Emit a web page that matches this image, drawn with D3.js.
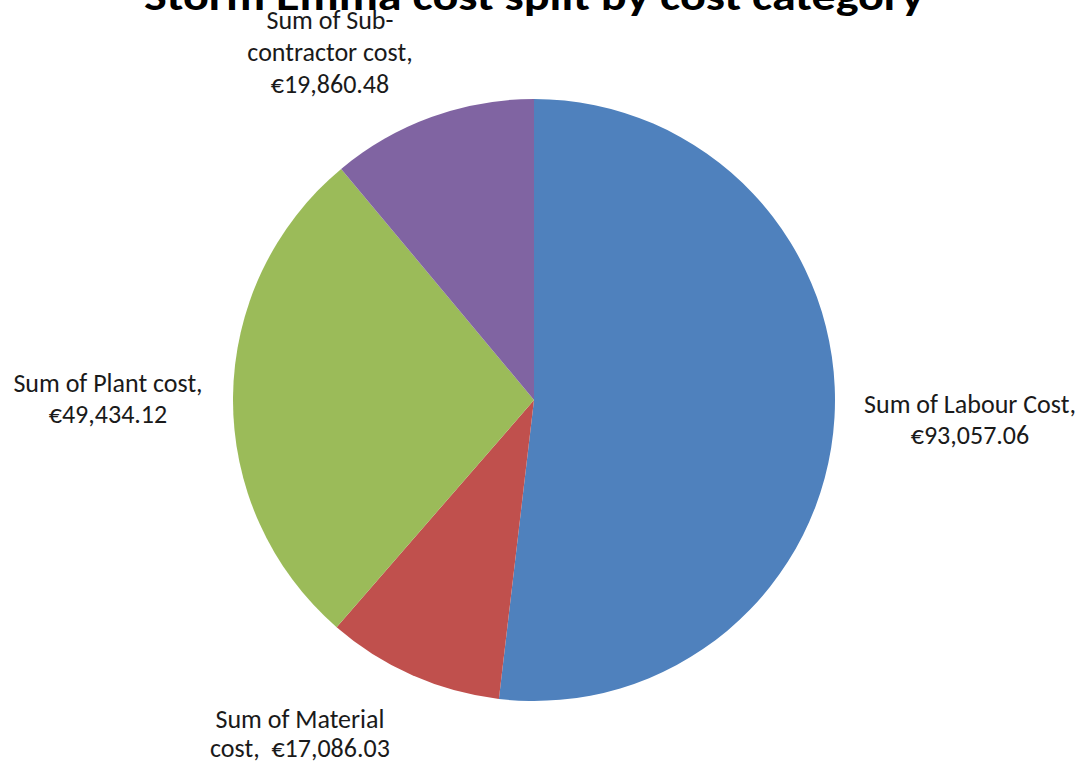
<!DOCTYPE html>
<html>
<head>
<meta charset="utf-8">
<script src="https://cdn.jsdelivr.net/npm/d3@7"></script>
<style>
  html, body { margin: 0; padding: 0; background: #fff; }
  svg { display: block; }
  text { font-family: Calibri, Carlito, Lato, sans-serif; fill: #1a1a1a; }
</style>
</head>
<body>
<div id="chart"></div>
<script>
// Storm Emma - custo por categoria
const titleText = 'Storm Emma cost split by cost category';
const categories = ['Labour Cost', 'Material cost', 'Plant cost', 'Sub-contractor cost'];
const values = [93057.06, 17086.03, 49434.12, 19860.48];
const labelLines = [
  ['Sum of Labour Cost,', '€93,057.06'],
  ['Sum of Material', 'cost,  €17,086.03'],
  ['Sum of Plant cost,', '€49,434.12'],
  ['Sum of Sub-', 'contractor cost,', '€19,860.48']
];
const colors = ['#4F81BD', '#C0504D', '#9BBB59', '#8064A2'];

const width = 1091;
const height = 762;
const cx = 534;
const cy = 400;
const radius = 301;

const svg = d3.select('#chart')
  .append('svg')
  .attr('width', width)
  .attr('height', height);

// Título (cortado no topo, como no original)
svg.append('text')
  .attr('x', cx)
  .attr('y', 10)
  .attr('text-anchor', 'middle')
  .attr('textLength', 780)
  .attr('lengthAdjust', 'spacingAndGlyphs')
  .style('font-size', '40px')
  .style('font-weight', 'bold')
  .style('fill', '#000')
  .text(titleText);

const data = categories.map((c, i) => ({ name: c, value: values[i], lines: labelLines[i], color: colors[i] }));

const pie = d3.pie()
  .sort(null)
  .value(d => d.value);

const arc = d3.arc()
  .innerRadius(0)
  .outerRadius(radius);

const g = svg.append('g')
  .attr('transform', `translate(${cx},${cy})`);

g.selectAll('path')
  .data(pie(data))
  .enter()
  .append('path')
  .attr('d', arc)
  .attr('fill', d => d.data.color);

// Posição dos rótulos (centro da primeira linha de base)
const labelPos = [
  { x: 970, y: 413 },
  { x: 300, y: 728 },
  { x: 108, y: 392 },
  { x: 330, y: 29 }
];
const lineGap = [31, 29, 31, 32];

const labels = svg.selectAll('.lbl')
  .data(data)
  .enter()
  .append('text')
  .attr('class', 'lbl')
  .attr('text-anchor', 'middle')
  .style('font-size', '26px');

labels.each(function(d, i) {
  const t = d3.select(this);
  d.lines.forEach((line, j) => {
    t.append('tspan')
      .attr('x', labelPos[i].x)
      .attr('y', labelPos[i].y + j * lineGap[i])
      .style('white-space', 'pre')
      .text(line);
  });
});
</script>
</body>
</html>
